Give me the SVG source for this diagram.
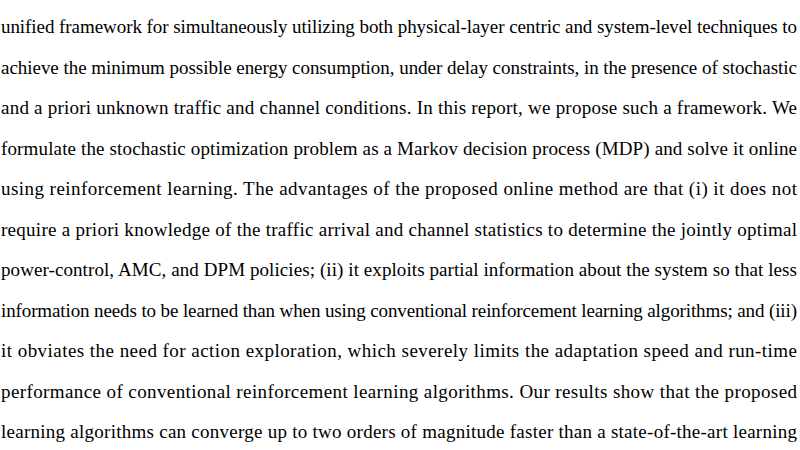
<svg xmlns="http://www.w3.org/2000/svg" width="800" height="450" viewBox="0 0 800 450">
<style>text{font-family:"Liberation Serif",serif;font-size:19px;fill:#000}</style>
<rect width="800" height="450" fill="#fff"/>
<g id="paragraph">
<text x="1" y="33" textLength="796" lengthAdjust="spacing">unified framework for simultaneously utilizing both physical-layer centric and system-level techniques to</text>
<text x="1" y="73.5" textLength="796" lengthAdjust="spacing">achieve the minimum possible energy consumption, under delay constraints, in the presence of stochastic</text>
<text x="1" y="114" textLength="796" lengthAdjust="spacing">and a priori unknown traffic and channel conditions. In this report, we propose such a framework. We</text>
<text x="1" y="154.5" textLength="796" lengthAdjust="spacing">formulate the stochastic optimization problem as a Markov decision process (MDP) and solve it online</text>
<text x="1" y="195" textLength="796" lengthAdjust="spacing">using reinforcement learning. The advantages of the proposed online method are that (i) it does not</text>
<text x="1" y="235.5" textLength="796" lengthAdjust="spacing">require a priori knowledge of the traffic arrival and channel statistics to determine the jointly optimal</text>
<text x="1" y="276" textLength="796" lengthAdjust="spacing">power-control, AMC, and DPM policies; (ii) it exploits partial information about the system so that less</text>
<text x="1" y="316.5" textLength="796" lengthAdjust="spacing">information needs to be learned than when using conventional reinforcement learning algorithms; and (iii)</text>
<text x="1" y="357" textLength="796" lengthAdjust="spacing">it obviates the need for action exploration, which severely limits the adaptation speed and run-time</text>
<text x="1" y="397.5" textLength="796" lengthAdjust="spacing">performance of conventional reinforcement learning algorithms. Our results show that the proposed</text>
<text x="1" y="438" textLength="796" lengthAdjust="spacing">learning algorithms can converge up to two orders of magnitude faster than a state-of-the-art learning</text>
</g>
</svg>
